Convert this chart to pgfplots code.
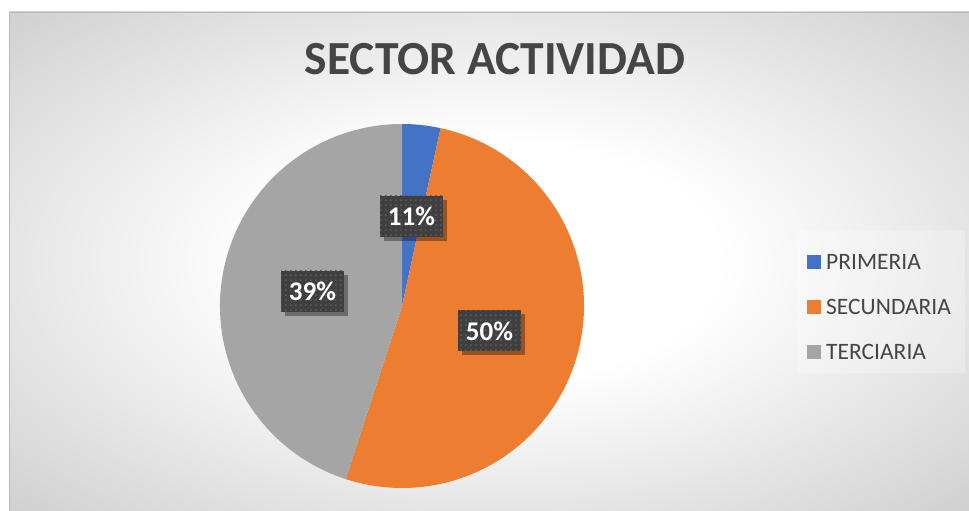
\documentclass[border=0pt]{standalone}
\usepackage{pgfplots}
\pgfplotsset{compat=1.18}
\usepackage{pgfplotstable}
\usepackage{fontspec}
\setmainfont{Carlito}
\usetikzlibrary{patterns.meta,shadows}
\definecolor{cA}{HTML}{4472C4}
\definecolor{cB}{HTML}{ED7D31}
\definecolor{cC}{HTML}{A5A5A5}
\definecolor{txt}{HTML}{454545}
\definecolor{boxc}{HTML}{3F3F3F}
\definecolor{dotc}{HTML}{5A5A5A}
\pgfdeclareradialshading{bgshade}{\pgfpoint{0bp}{0bp}}{color(0bp)=(white); color(12bp)=(white); color(40bp)=(black!22); color(50bp)=(black!23)}
\tikzdeclarepattern{name=sqdots, type=uncolored, bottom left={(0pt,0pt)}, top right={(5pt,5pt)}, tile size={(5pt,5pt)}, code={\fill (0pt,0pt) rectangle (1.8pt,1.8pt);}}
% slice values (as drawn) and printed labels
\pgfplotstableread{
name value lab
PRIMERIA 3.4 11
SECUNDARIA 51.6 50
TERCIARIA 45.0 39
}\piedata
\newcommand{\datalabel}[3]{%
  \node[fill=boxc, minimum width=63pt, minimum height=41pt, inner sep=0pt,
        drop shadow={shadow xshift=4pt, shadow yshift=-4pt, opacity=0.35, fill=black}]
        at (axis cs:#1,#2) {};
  \fill[pattern={sqdots}, pattern color=dotc] ([shift={(-31.5pt,-20.5pt)}]axis cs:#1,#2) rectangle ([shift={(31.5pt,20.5pt)}]axis cs:#1,#2);
  \node[text=white, font=\fontsize{27}{30}\selectfont\bfseries] at (axis cs:#1,#2) {#3\%};
}
\newcommand{\legitem}[3]{%
  \fill[#2] ([shift={(0pt,-7pt)}]axis cs:807,#1) rectangle ([shift={(0pt,7pt)}]axis cs:821,#1);
  \node[anchor=west, inner sep=0pt, text=txt, font=\fontsize{23.5}{26}\selectfont] at (axis cs:826,#1) {#3};
}
\begin{document}
\begin{tikzpicture}
\pgfplotstablegetelem{0}{value}\of\piedata \let\vA\pgfplotsretval
\pgfplotstablegetelem{1}{value}\of\piedata \let\vB\pgfplotsretval
\pgfplotstablegetelem{2}{value}\of\piedata \let\vC\pgfplotsretval
\pgfmathsetmacro{\tot}{\vA+\vB+\vC}
\pgfmathsetmacro{\aA}{90-360/\tot*\vA}
\pgfmathsetmacro{\aB}{\aA-360/\tot*\vB}
\pgfmathsetmacro{\aC}{\aB-360/\tot*\vC}
\begin{axis}[
  width=969pt, height=511pt, scale only axis,
  xmin=0, xmax=969, ymin=0, ymax=511,
  hide axis, clip=false,
]
% background
\shade[shading=bgshade] (axis cs:9,0) rectangle (axis cs:969,499);
\draw[black!28, line width=0.8pt] (axis cs:9,0) -- (axis cs:9,499) -- (axis cs:969,499);
% title
\node[font=\fontsize{47.5}{50}\selectfont\bfseries, text=txt] at (axis cs:495,452) {SECTOR ACTIVIDAD};
% pie
\fill[cA] (axis cs:402,205) -- ++(90:182pt) arc[start angle=90, end angle=\aA, radius=182pt] -- cycle;
\fill[cB] (axis cs:402,205) -- ++(\aA:182pt) arc[start angle=\aA, end angle=\aB, radius=182pt] -- cycle;
\fill[cC] (axis cs:402,205) -- ++(\aB:182pt) arc[start angle=\aB, end angle=\aC, radius=182pt] -- cycle;
% data labels
\datalabel{411.5}{294.5}{11}
\datalabel{489.5}{180}{50}
\datalabel{312.5}{219.5}{39}
% legend
\fill[white, opacity=0.25] (axis cs:797,138) rectangle (axis cs:965,281);
\legitem{249}{cA}{PRIMERIA}
\legitem{204}{cB}{SECUNDARIA}
\legitem{159}{cC}{TERCIARIA}
\end{axis}
\pgfresetboundingbox
\path[use as bounding box] (current axis.south west) rectangle (current axis.north east);
\end{tikzpicture}
\end{document}
